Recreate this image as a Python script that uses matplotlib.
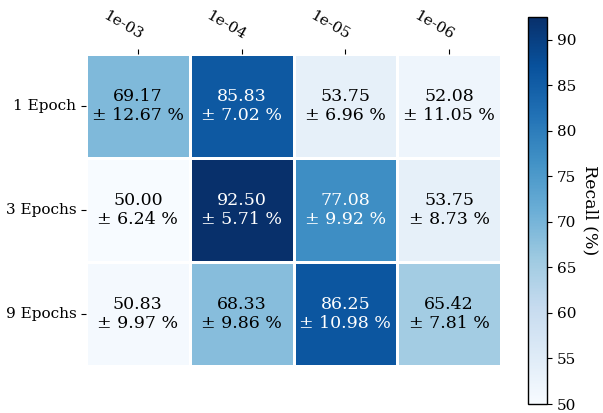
import numpy as np
import matplotlib
matplotlib.use("Agg")
import matplotlib.pyplot as plt
import seaborn as sns

plt.rcParams['font.family'] = ['DejaVu Serif']

learning_rates = ["1e-03", "1e-04", "1e-05", "1e-06"]
epochs = ["1 Epoch", "3 Epochs", "9 Epochs"]
recall_mean = [
    [69.17, 85.83, 53.75, 52.08],
    [50.00, 92.50, 77.08, 53.75],
    [50.83, 68.33, 86.25, 65.42],
]
recall_std = [
    [12.67, 7.02, 6.96, 11.05],
    [6.24, 5.71, 9.92, 8.73],
    [9.97, 9.86, 10.98, 7.81],
]

mean = np.array(recall_mean)
std = np.array(recall_std)
labels = np.array([[f"{m:.2f}\n± {s:.2f} %" for m, s in zip(rm, rs)]
                   for rm, rs in zip(mean, std)])

fig = plt.figure(figsize=(6.03, 4.13), dpi=100)
ax = fig.add_axes([86/603, 1-366/413, 415/603, 312/413])
cax = fig.add_axes([528/603, 1-404/413, 19/603, 387/413])

sns.heatmap(mean, ax=ax, cbar_ax=cax, cmap="Blues", annot=False,
            linewidths=2, linecolor="white",
            xticklabels=learning_rates, yticklabels=epochs)

norm = ax.collections[0].norm
for i in range(mean.shape[0]):
    for j in range(mean.shape[1]):
        color = "white" if norm(mean[i, j]) > 0.6 else "black"
        ax.text(j + 0.5, i + 0.5, labels[i, j], ha="center", va="center",
                fontsize=12.5, color=color, linespacing=1.15)

ax.xaxis.tick_top()
ax.tick_params(axis="x", pad=5)
plt.setp(ax.get_xticklabels(), rotation=-30, ha="right", va="bottom",
         rotation_mode="anchor", fontsize=11)
plt.setp(ax.get_yticklabels(), rotation=0, fontsize=11)

cbar = ax.collections[0].colorbar
cbar.outline.set_visible(True)
cbar.outline.set_edgecolor("black")
cbar.outline.set_linewidth(1)
cbar.set_ticks([50, 55, 60, 65, 70, 75, 80, 85, 90])
cbar.ax.tick_params(labelsize=11)
cbar.set_label("Recall (%)", rotation=270, labelpad=16, fontsize=12.5)

fig.savefig("out.png", dpi=100)
